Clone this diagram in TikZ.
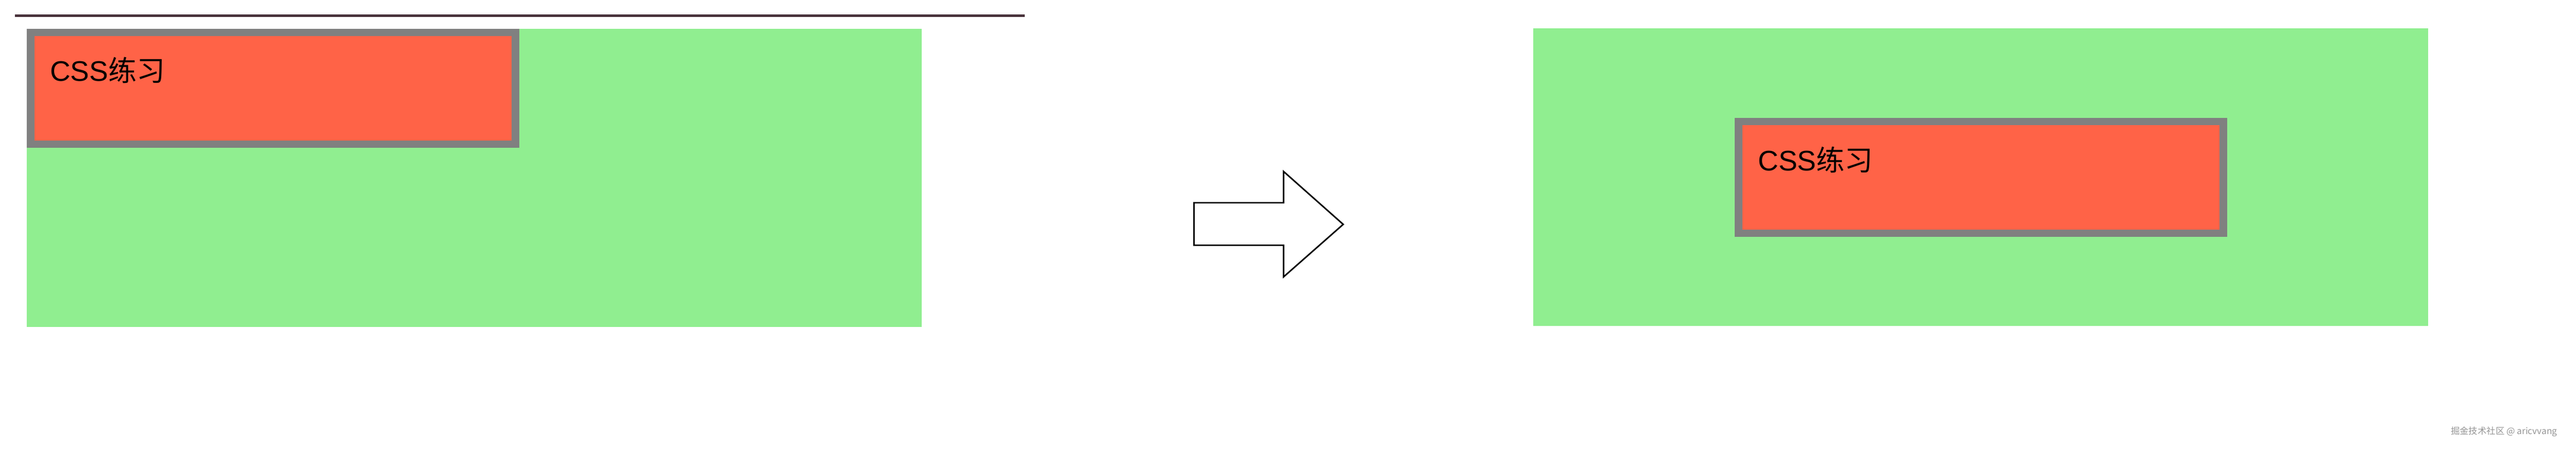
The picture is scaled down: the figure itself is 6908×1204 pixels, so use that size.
\documentclass[tikz,border=0pt]{standalone}
\usepackage{fontspec}
\setmainfont{Liberation Sans}
\newfontfamily\cjk{Noto Sans CJK SC}
\definecolor{boxgreen}{HTML}{90EE90}
\definecolor{boxred}{HTML}{FF6347}
\definecolor{boxgray}{HTML}{808080}
\definecolor{hrcolor}{RGB}{74,52,60}
\definecolor{wmgray}{RGB}{150,150,150}
\begin{document}
\begin{tikzpicture}[x=0.5pt,y=-0.5pt,
  outerbox/.style={fill=boxgreen},
  borderbox/.style={fill=boxgray},
  innerbox/.style={fill=boxred},
  label/.style={anchor=base west,inner sep=0pt,font=\fontsize{38}{44}\selectfont,text=black},
  bigarrow/.style={draw=black,line width=2pt,fill=white,line join=miter}]
\useasboundingbox[fill=white] (0,0) rectangle (6908,1204);
% top rule
\draw[hrcolor,line width=3.5pt] (40,41.5) -- (2748,41.5);
% left: before
\fill[outerbox] (72,77) rectangle (2472,877);
\fill[borderbox] (72,77) rectangle (1392,397);
\fill[innerbox] (92,97) rectangle (1372,377);
\node[label] (t1) at (134,218) {CSS{\cjk 练习}};
% arrow
\draw[bigarrow] (3202,544) -- (3442,544) -- (3442,460) -- (3602,602) -- (3442,743) -- (3442,658) -- (3202,658) -- cycle;
% right: after
\fill[outerbox] (4112,76) rectangle (6512,875);
\fill[borderbox] (4652,316) rectangle (5972,636);
\fill[innerbox] (4672,336) rectangle (5952,616);
\node[label] (t2) at (4714,458) {CSS{\cjk 练习}};
% watermark
\node[anchor=base west,inner sep=0pt,font=\cjk\fontsize{12}{14}\selectfont,text=wmgray] (wm) at (6572,1166) {掘金技术社区 @ aricvvang};
\end{tikzpicture}
\end{document}
